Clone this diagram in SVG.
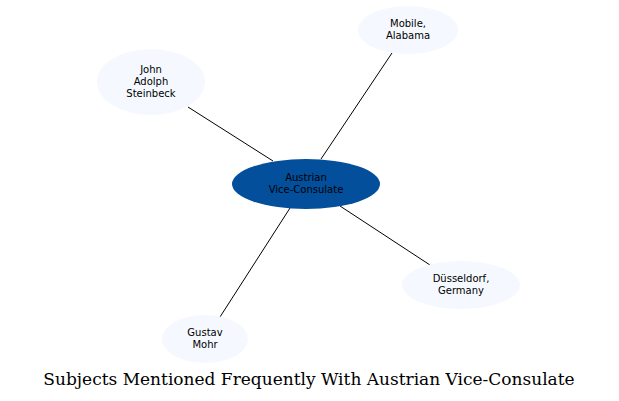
<svg xmlns="http://www.w3.org/2000/svg" width="619" height="401" viewBox="0 0 619 401">
<style>
.n{fill:#f5f9ff}
text{font-family:"DejaVu Sans",sans-serif;font-size:10px;text-anchor:middle;fill:#000}
.t{font-family:"DejaVu Serif",serif;font-size:17px}
line{stroke:#000;stroke-width:1}
</style>
<rect width="619" height="401" fill="#fff"/>
<g id="connectors">
<line x1="321" y1="159" x2="392" y2="53"/>
<line x1="273" y1="161" x2="188" y2="107"/>
<line x1="340" y1="206" x2="430" y2="265"/>
<line x1="290" y1="208" x2="220" y2="317"/>
</g>
<g id="center"><ellipse cx="306" cy="184" rx="74" ry="25" fill="#034f9c"/><text x="306" y="181">Austrian</text><text x="306" y="193">Vice-Consulate</text></g>
<g id="mobile"><ellipse class="n" cx="408" cy="30" rx="50" ry="24"/><text x="408" y="27">Mobile,</text><text x="408" y="39">Alabama</text></g>
<g id="john"><ellipse class="n" cx="151" cy="82" rx="54" ry="33"/><text x="151" y="73">John</text><text x="151" y="85">Adolph</text><text x="151" y="97">Steinbeck</text></g>
<g id="dus"><ellipse class="n" cx="461" cy="285" rx="59" ry="24"/><text x="461" y="282">Düsseldorf,</text><text x="461" y="294">Germany</text></g>
<g id="gustav"><ellipse class="n" cx="205" cy="339" rx="43" ry="24"/><text x="205" y="336">Gustav</text><text x="205" y="348">Mohr</text></g>
<text class="t" x="309" y="385">Subjects Mentioned Frequently With Austrian Vice-Consulate</text>
</svg>
